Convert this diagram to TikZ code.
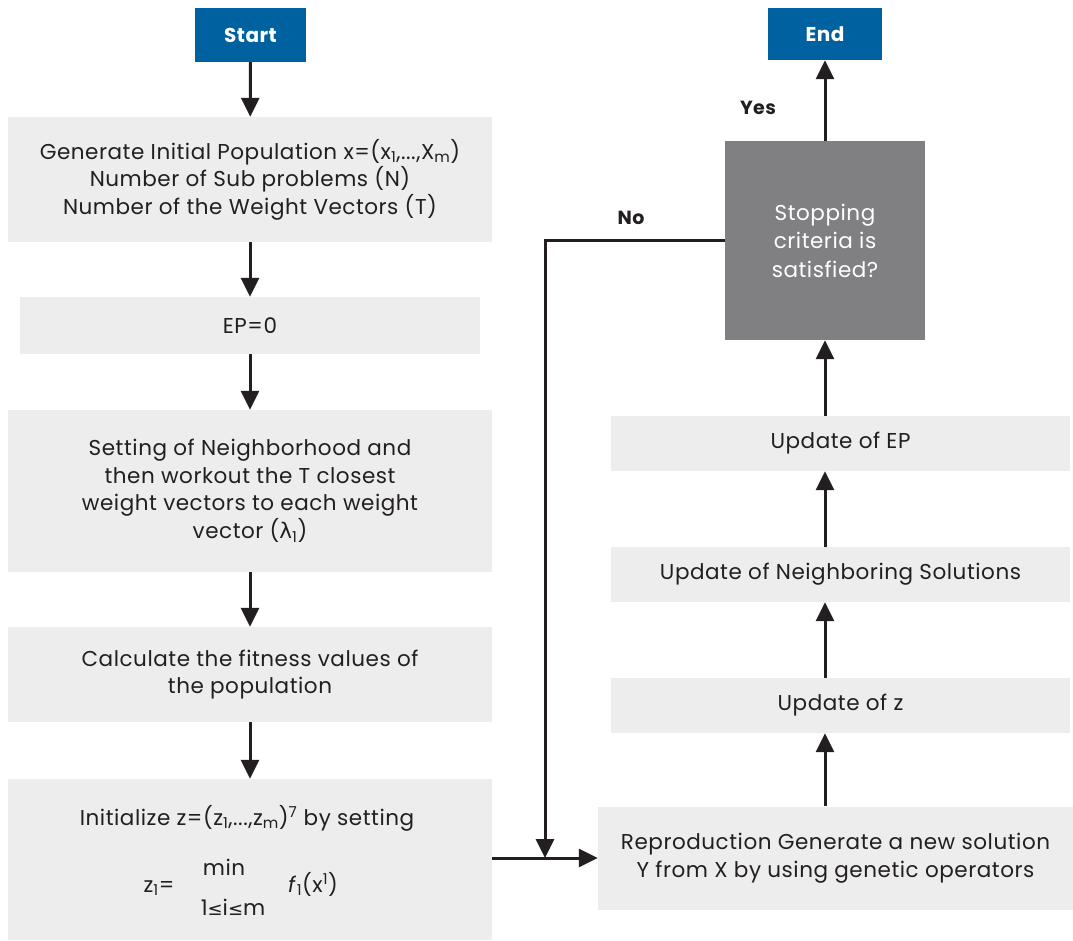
\documentclass[tikz,border=0pt]{standalone}
\usepackage{fontspec}
\setmainfont{Poppins}[LetterSpace=2.5]
\newfontfamily\symfont{DejaVu Sans}
\usetikzlibrary{arrows.meta,calc}
\definecolor{bluebox}{HTML}{0061A1}
\definecolor{lightbox}{HTML}{EDEDED}
\definecolor{darkbox}{HTML}{808083}
\definecolor{ink}{HTML}{231F20}
\begin{document}
\begin{tikzpicture}[x=1pt,y=-1pt,
  box/.style={rectangle,fill=lightbox,inner sep=0pt,align=center,text=ink,font=\fontsize{21.5}{27.5}\selectfont},
  termbox/.style={rectangle,fill=bluebox,inner sep=0pt,text=white,font=\fontsize{20}{26}\selectfont\bfseries},
  decbox/.style={rectangle,fill=darkbox,inner sep=0pt,align=center,text=white,font=\fontsize{21.5}{28.5}\selectfont},
  flow/.style={line width=3pt,draw=ink,-{Triangle[width=18pt,length=19pt]}},
  lbl/.style={text=ink,font=\fontsize{19}{24}\selectfont\bfseries,inner sep=0pt}]
\useasboundingbox (0,0) rectangle (1073,941);
% left column
\node[termbox,minimum width=111pt,minimum height=54pt] (start) at (250.5,35) {Start};
\node[box,minimum width=484pt,minimum height=125pt] (b1) at (250,179.5)
  {Generate Initial Population x=(x\textsubscript{1},...,X\textsubscript{m})\\Number of Sub problems (N)\\Number of the Weight Vectors (T)};
\node[box,minimum width=460pt,minimum height=57pt] (ep) at (250,325.5) {EP=0};
\node[box,minimum width=484pt,minimum height=162pt] (b3) at (250,491)
  {Setting of Neighborhood and\\then workout the T closest\\weight vectors to each weight\\vector ({\symfont λ}\textsubscript{1})};
\node[box,minimum width=484pt,minimum height=95pt] (b4) at (250,674.5)
  {Calculate the fitness values of\\the population};
\node[box,minimum width=484pt,minimum height=161pt] (b5) at (250,859.5) {};
\node[box,fill=none,anchor=base] (b5t) at (247,825) {Initialize z=(z\textsubscript{1},...,z\textsubscript{m})\textsuperscript{7} by setting};
\node[box,fill=none,anchor=base] (b5z) at (159,892) {z\textsubscript{1}=};
\node[box,fill=none,anchor=base] (b5min) at (224,875) {min};
\node[box,fill=none,anchor=base] (b5rng) at (233,915) {1{\symfont\fontsize{18}{20}\selectfont ≤}i{\symfont\fontsize{18}{20}\selectfont ≤}m};
\node[box,fill=none,anchor=base] (b5f) at (313,892) {\textit{f}\textsubscript{1}(x\textsuperscript{1})};
% right column
\node[box,minimum width=475pt,minimum height=103pt] (rep) at (835.5,858)
  {Reproduction Generate a new solution\\Y from X by using genetic operators};
\node[box,minimum width=459pt,minimum height=55pt] (uz) at (840.5,705.5) {Update of z};
\node[box,minimum width=459pt,minimum height=55pt] (un) at (840.5,574.5) {Update of Neighboring Solutions};
\node[box,minimum width=459pt,minimum height=55pt] (ue) at (840.5,443.5) {Update of EP};
\node[decbox,minimum width=200pt,minimum height=199pt] (stop) at (825,240.5)
  {Stopping\\criteria is\\satisfied?};
\node[termbox,minimum width=114pt,minimum height=52pt] (end) at (825,34) {End};
% labels
\node[lbl] (yes) at (758,108) {Yes};
\node[lbl] (no) at (631,218) {No};
% connectors
\draw[flow] (start) -- (b1);
\draw[flow] (b1) -- (ep);
\draw[flow] (ep) -- (b3);
\draw[flow] (b3) -- (b4);
\draw[flow] (b4) -- (b5);
\draw[flow] (b5.east |- rep.west) -- (rep.west);
\coordinate (join) at (545,858);
\draw[flow] (stop.west) -| (join);
\draw[flow] (stop.south |- rep.north) -- (stop.south |- uz.south);
\draw[flow] (stop.south |- uz.north) -- (stop.south |- un.south);
\draw[flow] (stop.south |- un.north) -- (stop.south |- ue.south);
\draw[flow] (stop.south |- ue.north) -- (stop.south);
\draw[flow] (stop.north) -- (end.south);
\end{tikzpicture}
\end{document}
